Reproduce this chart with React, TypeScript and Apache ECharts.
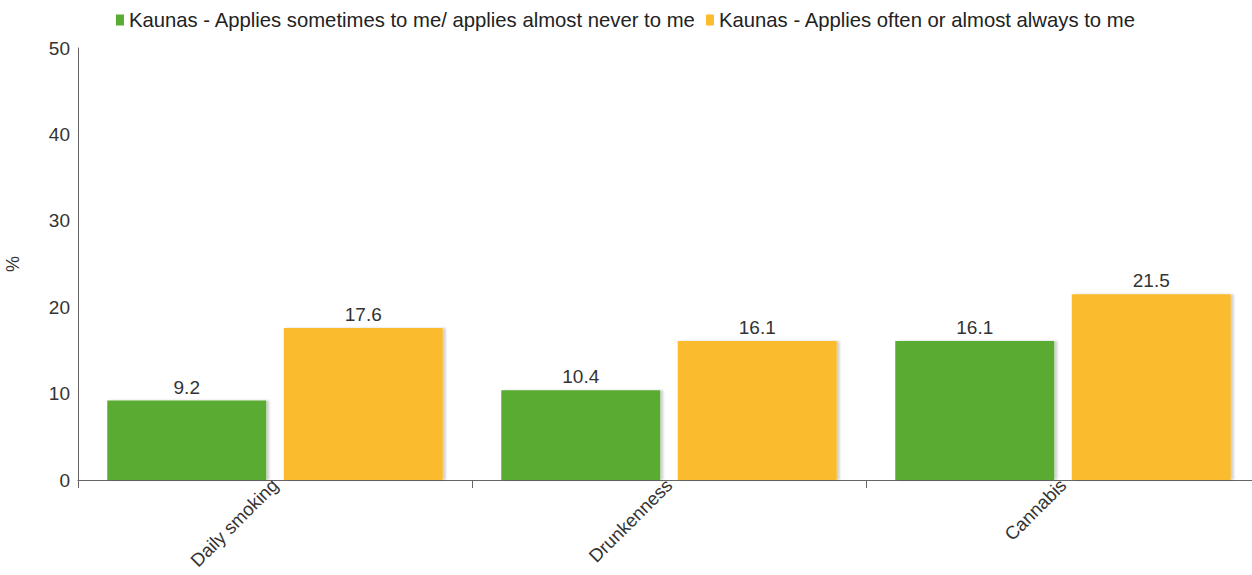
import React, { useEffect, useRef } from "react";
import * as echarts from "echarts";

const categories = ["Daily smoking", "Drunkenness", "Cannabis"];
const seriesNames = [
  "Kaunas - Applies sometimes to me/ applies almost never to me",
  "Kaunas - Applies often or almost always to me",
];
const sometimesValues = [9.2, 10.4, 16.1];
const oftenValues = [17.6, 16.1, 21.5];
const colors = ["#5aab32", "#fbbb2e"];

export default function App() {
  const ref = useRef<HTMLDivElement>(null);
  useEffect(() => {
    if (!ref.current) return;
    const chart = echarts.init(ref.current, undefined, { renderer: "svg" });
    const font = "Liberation Sans, Arial, sans-serif";
    const mkSeries = (name: string, data: number[], color: string) => ({
      name,
      type: "bar",
      data,
      barWidth: 159,
      barGap: "11%",
      itemStyle: {
        color,
        shadowColor: "rgba(0,0,0,0.18)",
        shadowOffsetX: 3,
        shadowBlur: 2,
      },
      label: {
        show: true,
        position: "top",
        distance: 4,
        color: "#333",
        fontSize: 19,
        fontFamily: font,
      },
    });
    chart.setOption({
      animation: false,
      textStyle: { fontFamily: font },
      legend: {
        top: 5,
        left: "center",
        itemWidth: 8,
        itemHeight: 11,
        itemGap: 10,
        icon: "rect",
        textStyle: { fontSize: 20.3, color: "#222", fontFamily: font },
        data: seriesNames,
      },
      grid: {
        left: 78,
        width: 1182,
        top: 48,
        bottom: 95,
        containLabel: false,
        outerBoundsMode: "none",
      },
      xAxis: {
        type: "category",
        data: categories,
        axisLine: { lineStyle: { color: "#666" } },
        axisTick: { show: true, length: 8, lineStyle: { color: "#666" } },
        axisLabel: {
          rotate: 45,
          fontSize: 18.5,
          color: "#333",
          fontFamily: font,
          margin: 2,
        },
      },
      yAxis: {
        type: "value",
        min: 0,
        max: 50,
        interval: 10,
        name: "%",
        nameLocation: "middle",
        nameGap: 56,
        nameTextStyle: { fontSize: 18, color: "#333", fontFamily: font },
        axisLine: { show: true, lineStyle: { color: "#666" } },
        axisTick: { show: false },
        splitLine: { show: false },
        axisLabel: { fontSize: 19, color: "#333", fontFamily: font, margin: 8 },
      },
      series: [
        mkSeries(seriesNames[0], sometimesValues, colors[0]),
        mkSeries(seriesNames[1], oftenValues, colors[1]),
      ],
    });
    return () => chart.dispose();
  }, []);
  return (
    <div
      ref={ref}
      style={{
        position: "fixed",
        left: 0,
        top: 0,
        width: 1252,
        height: 575,
        overflow: "hidden",
        background: "#fff",
      }}
    />
  );
}
